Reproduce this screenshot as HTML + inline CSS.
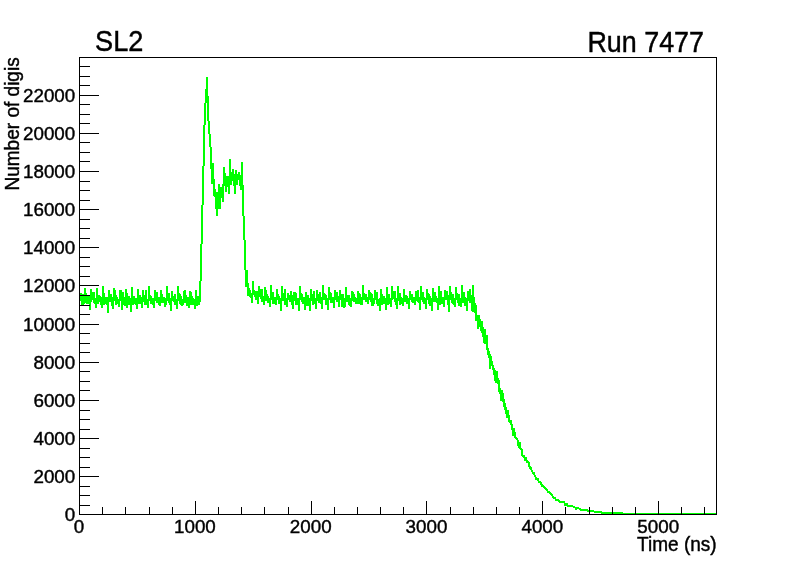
<!DOCTYPE html>
<html lang="en">
<head>
<meta charset="utf-8">
<title>SL2 - Run 7477</title>
<style>
html,body{margin:0;padding:0;background:#fff;}
body{width:796px;height:572px;overflow:hidden;}
svg{display:block;}
text{font-family:"Liberation Sans",sans-serif;fill:#000;stroke:#000;}
</style>
</head>
<body>
<svg width="796" height="572" viewBox="0 0 796 572">
<rect width="796" height="572" fill="#fff"/>
<path d="M559 501h6v2h-6zM564 503h4v3h-4zM567 505h6v2h-6zM573 506h2v2h-2zM575 507h2v3h-2zM577 507h2v2h-2zM579 508h2v2h-2zM580 509h8v2h-8zM587 510h7v2h-7zM594 511h8v2h-8zM601 512h22v2h-22zM623 513h93v2h-93zM80 293h2v8h-2zM81 294h2v11h-2zM82 294h2v11h-2zM83 294h2v10h-2zM84 288h2v14h-2zM85 293h2v10h-2zM86 295h2v9h-2zM87 296h2v8h-2zM88 296h2v8h-2zM89 296h2v14h-2zM90 289h2v13h-2zM91 292h2v8h-2zM92 292h2v8h-2zM93 292h2v11h-2zM94 298h2v6h-2zM95 299h2v9h-2zM96 288h2v13h-2zM97 295h2v9h-2zM98 295h2v6h-2zM99 296h2v6h-2zM100 297h2v8h-2zM101 298h2v10h-2zM102 286h2v15h-2zM103 293h2v12h-2zM104 298h2v6h-2zM105 297h2v7h-2zM106 297h2v8h-2zM107 298h2v15h-2zM108 290h2v11h-2zM109 297h2v5h-2zM110 294h2v8h-2zM111 297h2v9h-2zM112 299h2v10h-2zM113 288h2v13h-2zM114 290h2v11h-2zM115 295h2v10h-2zM116 297h2v7h-2zM117 299h2v5h-2zM118 299h2v8h-2zM119 290h2v11h-2zM120 290h2v9h-2zM121 294h2v16h-2zM122 292h2v13h-2zM123 297h2v8h-2zM124 299h2v7h-2zM125 289h2v12h-2zM126 293h2v15h-2zM127 296h2v7h-2zM128 296h2v9h-2zM129 298h2v7h-2zM130 299h2v13h-2zM131 287h2v15h-2zM132 296h2v9h-2zM133 296h2v8h-2zM134 298h2v6h-2zM135 298h2v7h-2zM136 299h2v10h-2zM137 289h2v12h-2zM138 295h2v9h-2zM139 295h2v9h-2zM140 297h2v7h-2zM141 298h2v10h-2zM142 290h2v11h-2zM143 295h2v7h-2zM144 295h2v10h-2zM145 290h2v14h-2zM146 300h2v5h-2zM147 299h2v9h-2zM148 286h2v15h-2zM149 295h2v6h-2zM150 296h2v8h-2zM151 298h2v6h-2zM152 298h2v7h-2zM153 299h2v9h-2zM154 290h2v11h-2zM155 293h2v8h-2zM156 292h2v11h-2zM157 297h2v6h-2zM158 297h2v8h-2zM159 298h2v8h-2zM160 290h2v11h-2zM161 294h2v9h-2zM162 297h2v6h-2zM163 297h2v5h-2zM164 298h2v9h-2zM165 299h2v6h-2zM166 286h2v15h-2zM167 294h2v7h-2zM168 293h2v10h-2zM169 298h2v7h-2zM170 299h2v12h-2zM171 291h2v10h-2zM172 296h2v5h-2zM173 296h2v6h-2zM174 294h2v11h-2zM175 300h2v5h-2zM176 299h2v10h-2zM177 286h2v15h-2zM178 293h2v6h-2zM179 294h2v10h-2zM180 296h2v9h-2zM181 301h2v5h-2zM182 299h2v6h-2zM183 291h2v10h-2zM184 290h2v13h-2zM185 295h2v8h-2zM186 299h2v7h-2zM187 297h2v9h-2zM188 298h2v10h-2zM189 291h2v10h-2zM190 292h2v13h-2zM191 296h2v7h-2zM192 298h2v7h-2zM193 299h2v6h-2zM194 299h2v10h-2zM195 290h2v12h-2zM196 296h2v10h-2zM197 296h2v5h-2zM198 296h2v9h-2zM199 281h2v21h-2zM200 244h2v37h-2zM201 205h2v39h-2zM202 166h2v39h-2zM203 125h2v41h-2zM204 103h2v22h-2zM205 89h2v14h-2zM206 77h2v26h-2zM207 96h2v25h-2zM208 121h2v13h-2zM209 134h2v13h-2zM210 147h2v22h-2zM211 169h2v15h-2zM212 163h2v21h-2zM213 179h2v17h-2zM214 189h2v8h-2zM215 196h2v13h-2zM216 192h2v24h-2zM217 196h2v13h-2zM218 184h2v25h-2zM219 187h2v22h-2zM220 187h2v11h-2zM221 187h2v8h-2zM222 184h2v18h-2zM223 167h2v19h-2zM224 173h2v13h-2zM225 176h2v16h-2zM226 178h2v9h-2zM227 176h2v11h-2zM228 176h2v18h-2zM229 159h2v26h-2zM230 172h2v13h-2zM231 172h2v9h-2zM232 169h2v12h-2zM233 174h2v12h-2zM234 174h2v20h-2zM235 170h2v15h-2zM236 174h2v11h-2zM237 174h2v6h-2zM238 172h2v8h-2zM239 175h2v11h-2zM240 175h2v15h-2zM241 162h2v24h-2zM242 185h2v31h-2zM243 216h2v24h-2zM244 240h2v30h-2zM245 270h2v17h-2zM246 270h2v17h-2zM247 283h2v13h-2zM248 288h2v7h-2zM249 290h2v7h-2zM250 293h2v5h-2zM251 293h2v10h-2zM252 281h2v14h-2zM253 290h2v5h-2zM254 291h2v6h-2zM255 292h2v8h-2zM256 291h2v9h-2zM257 293h2v11h-2zM258 286h2v11h-2zM259 289h2v6h-2zM260 291h2v8h-2zM261 289h2v13h-2zM262 297h2v5h-2zM263 296h2v9h-2zM264 287h2v11h-2zM265 290h2v11h-2zM266 294h2v7h-2zM267 296h2v7h-2zM268 298h2v5h-2zM269 298h2v9h-2zM270 285h2v15h-2zM271 295h2v5h-2zM272 292h2v12h-2zM273 298h2v6h-2zM274 297h2v6h-2zM275 298h2v7h-2zM276 289h2v11h-2zM277 294h2v6h-2zM278 296h2v8h-2zM279 299h2v5h-2zM280 298h2v13h-2zM281 286h2v14h-2zM282 295h2v6h-2zM283 293h2v8h-2zM284 289h2v16h-2zM285 298h2v7h-2zM286 298h2v9h-2zM287 293h2v7h-2zM288 295h2v5h-2zM289 296h2v6h-2zM290 291h2v11h-2zM291 295h2v10h-2zM292 297h2v12h-2zM293 292h2v8h-2zM294 292h2v9h-2zM295 293h2v12h-2zM296 298h2v7h-2zM297 298h2v6h-2zM298 298h2v13h-2zM299 286h2v14h-2zM300 293h2v6h-2zM301 294h2v8h-2zM302 297h2v7h-2zM303 297h2v7h-2zM304 298h2v12h-2zM305 292h2v10h-2zM306 295h2v11h-2zM307 295h2v8h-2zM308 298h2v8h-2zM309 298h2v13h-2zM310 289h2v12h-2zM311 295h2v6h-2zM312 294h2v11h-2zM313 291h2v13h-2zM314 299h2v5h-2zM315 298h2v11h-2zM316 290h2v10h-2zM317 294h2v7h-2zM318 294h2v9h-2zM319 292h2v11h-2zM320 297h2v7h-2zM321 298h2v11h-2zM322 285h2v15h-2zM323 293h2v6h-2zM324 294h2v6h-2zM325 295h2v10h-2zM326 300h2v5h-2zM327 298h2v12h-2zM328 287h2v13h-2zM329 292h2v6h-2zM330 293h2v10h-2zM331 297h2v6h-2zM332 297h2v6h-2zM333 298h2v10h-2zM334 290h2v10h-2zM335 293h2v6h-2zM336 292h2v10h-2zM337 296h2v6h-2zM338 298h2v9h-2zM339 290h2v10h-2zM340 294h2v6h-2zM341 295h2v12h-2zM342 294h2v12h-2zM343 301h2v7h-2zM344 298h2v9h-2zM345 287h2v13h-2zM346 295h2v7h-2zM347 297h2v5h-2zM348 295h2v10h-2zM349 300h2v6h-2zM350 298h2v9h-2zM351 291h2v9h-2zM352 292h2v9h-2zM353 294h2v8h-2zM354 297h2v5h-2zM355 298h2v6h-2zM356 298h2v6h-2zM357 291h2v9h-2zM358 293h2v11h-2zM359 294h2v10h-2zM360 297h2v8h-2zM361 298h2v7h-2zM362 285h2v15h-2zM363 293h2v7h-2zM364 294h2v6h-2zM365 294h2v8h-2zM366 297h2v5h-2zM367 298h2v6h-2zM368 290h2v10h-2zM369 292h2v6h-2zM370 293h2v9h-2zM371 294h2v12h-2zM372 301h2v5h-2zM373 298h2v6h-2zM374 290h2v10h-2zM375 294h2v6h-2zM376 292h2v12h-2zM377 299h2v7h-2zM378 301h2v5h-2zM379 298h2v13h-2zM380 289h2v11h-2zM381 294h2v11h-2zM382 296h2v5h-2zM383 296h2v8h-2zM384 298h2v6h-2zM385 298h2v12h-2zM386 287h2v14h-2zM387 294h2v11h-2zM388 294h2v9h-2zM389 298h2v6h-2zM390 298h2v9h-2zM391 286h2v14h-2zM392 291h2v7h-2zM393 293h2v6h-2zM394 291h2v11h-2zM395 298h2v7h-2zM396 298h2v11h-2zM397 286h2v14h-2zM398 293h2v8h-2zM399 293h2v12h-2zM400 297h2v6h-2zM401 299h2v5h-2zM402 298h2v8h-2zM403 289h2v12h-2zM404 295h2v7h-2zM405 295h2v6h-2zM406 296h2v8h-2zM407 298h2v6h-2zM408 298h2v11h-2zM409 291h2v9h-2zM410 294h2v6h-2zM411 294h2v8h-2zM412 297h2v6h-2zM413 297h2v6h-2zM414 298h2v7h-2zM415 291h2v9h-2zM416 292h2v9h-2zM417 290h2v12h-2zM418 297h2v6h-2zM419 298h2v12h-2zM420 286h2v14h-2zM421 292h2v5h-2zM422 292h2v10h-2zM423 297h2v7h-2zM424 299h2v5h-2zM425 298h2v11h-2zM426 289h2v11h-2zM427 293h2v6h-2zM428 294h2v10h-2zM429 296h2v10h-2zM430 299h2v7h-2zM431 298h2v13h-2zM432 288h2v12h-2zM433 295h2v7h-2zM434 292h2v10h-2zM435 296h2v6h-2zM436 298h2v5h-2zM437 298h2v12h-2zM438 286h2v14h-2zM439 294h2v11h-2zM440 291h2v11h-2zM441 297h2v7h-2zM442 297h2v7h-2zM443 298h2v9h-2zM444 290h2v10h-2zM445 293h2v6h-2zM446 291h2v9h-2zM447 295h2v10h-2zM448 296h2v16h-2zM449 286h2v14h-2zM450 292h2v6h-2zM451 294h2v9h-2zM452 294h2v10h-2zM453 299h2v6h-2zM454 298h2v9h-2zM455 287h2v13h-2zM456 293h2v6h-2zM457 294h2v9h-2zM458 294h2v12h-2zM459 300h2v6h-2zM460 298h2v9h-2zM461 285h2v15h-2zM462 295h2v8h-2zM463 292h2v11h-2zM464 297h2v9h-2zM465 299h2v7h-2zM466 298h2v13h-2zM467 291h2v9h-2zM468 294h2v7h-2zM469 289h2v14h-2zM470 298h2v5h-2zM471 295h2v16h-2zM472 285h2v27h-2zM473 297h2v15h-2zM474 303h2v10h-2zM475 305h2v16h-2zM476 315h2v6h-2zM477 316h2v13h-2zM478 315h2v10h-2zM479 319h2v8h-2zM480 322h2v9h-2zM481 321h2v12h-2zM482 327h2v10h-2zM483 332h2v11h-2zM484 329h2v15h-2zM485 337h2v7h-2zM486 335h2v15h-2zM487 348h2v7h-2zM488 351h2v7h-2zM489 354h2v15h-2zM490 356h2v7h-2zM491 361h2v5h-2zM492 365h2v5h-2zM493 368h2v7h-2zM494 370h2v11h-2zM495 376h2v7h-2zM496 371h2v10h-2zM497 378h2v6h-2zM498 380h2v12h-2zM499 388h2v6h-2zM500 391h2v10h-2zM501 390h2v6h-2zM502 393h2v9h-2zM503 399h2v8h-2zM504 403h2v7h-2zM505 407h2v7h-2zM506 412h2v6h-2zM507 410h2v8h-2zM508 415h2v7h-2zM509 420h2v3h-2zM510 420h2v5h-2zM511 424h2v6h-2zM512 429h2v7h-2zM513 428h2v6h-2zM514 432h2v6h-2zM515 437h2v2h-2zM516 438h2v2h-2zM517 440h2v6h-2zM518 444h2v4h-2zM519 442h2v7h-2zM520 448h2v2h-2zM521 449h2v7h-2zM522 455h2v2h-2zM523 455h2v3h-2zM524 457h2v4h-2zM525 457h2v3h-2zM526 460h2v3h-2zM527 461h2v2h-2zM528 462h2v5h-2zM529 466h2v3h-2zM530 467h2v3h-2zM531 470h2v2h-2zM532 472h2v2h-2zM533 472h2v3h-2zM534 475h2v2h-2zM535 477h2v3h-2zM536 478h2v2h-2zM537 478h2v3h-2zM538 481h2v2h-2zM539 481h2v2h-2zM540 482h2v3h-2zM541 484h2v3h-2zM542 485h2v2h-2zM543 486h2v2h-2zM544 487h2v2h-2zM545 488h2v2h-2zM546 489h2v2h-2zM547 491h2v2h-2zM548 491h2v2h-2zM549 492h2v2h-2zM550 493h2v2h-2zM551 494h2v2h-2zM552 496h2v2h-2zM553 497h2v2h-2zM554 497h2v2h-2zM555 499h2v2h-2zM556 499h2v2h-2zM557 499h2v2h-2zM558 500h2v2h-2z" fill="#00ff00" shape-rendering="crispEdges"/>
<path d="M79 57h638v1h-638zM79 514h638v1h-638zM79 57h1v458h-1zM716 57h1v458h-1zM79 501h1v13h-1zM102 507h1v7h-1zM125 507h1v7h-1zM149 507h1v7h-1zM172 507h1v7h-1zM195 501h1v13h-1zM218 507h1v7h-1zM241 507h1v7h-1zM264 507h1v7h-1zM288 507h1v7h-1zM311 501h1v13h-1zM334 507h1v7h-1zM357 507h1v7h-1zM380 507h1v7h-1zM403 507h1v7h-1zM426 501h1v13h-1zM450 507h1v7h-1zM473 507h1v7h-1zM496 507h1v7h-1zM519 507h1v7h-1zM542 501h1v13h-1zM565 507h1v7h-1zM589 507h1v7h-1zM612 507h1v7h-1zM635 507h1v7h-1zM658 501h1v13h-1zM681 507h1v7h-1zM704 507h1v7h-1zM79 514h20v1h-20zM79 505h11v1h-11zM79 495h11v1h-11zM79 486h11v1h-11zM79 476h20v1h-20zM79 467h11v1h-11zM79 457h11v1h-11zM79 448h11v1h-11zM79 438h20v1h-20zM79 429h11v1h-11zM79 419h11v1h-11zM79 410h11v1h-11zM79 400h20v1h-20zM79 390h11v1h-11zM79 381h11v1h-11zM79 371h11v1h-11zM79 362h20v1h-20zM79 352h11v1h-11zM79 343h11v1h-11zM79 333h11v1h-11zM79 324h20v1h-20zM79 314h11v1h-11zM79 305h11v1h-11zM79 295h11v1h-11zM79 285h20v1h-20zM79 276h11v1h-11zM79 266h11v1h-11zM79 257h11v1h-11zM79 247h20v1h-20zM79 238h11v1h-11zM79 228h11v1h-11zM79 219h11v1h-11zM79 209h20v1h-20zM79 200h11v1h-11zM79 190h11v1h-11zM79 181h11v1h-11zM79 171h20v1h-20zM79 161h11v1h-11zM79 152h11v1h-11zM79 142h11v1h-11zM79 133h20v1h-20zM79 123h11v1h-11zM79 114h11v1h-11zM79 104h11v1h-11zM79 95h20v1h-20zM79 85h11v1h-11zM79 76h11v1h-11zM79 66h11v1h-11z" fill="#000" shape-rendering="crispEdges"/>
<text transform="translate(75.30 521.10) scale(0.39200 0.40000)" text-anchor="end" font-size="48" stroke-width="1.05">0</text>
<text transform="translate(75.30 483.10) scale(0.39200 0.40000)" text-anchor="end" font-size="48" stroke-width="1.05">2000</text>
<text transform="translate(75.30 445.10) scale(0.39200 0.40000)" text-anchor="end" font-size="48" stroke-width="1.05">4000</text>
<text transform="translate(75.30 407.10) scale(0.39200 0.40000)" text-anchor="end" font-size="48" stroke-width="1.05">6000</text>
<text transform="translate(75.30 369.10) scale(0.39200 0.40000)" text-anchor="end" font-size="48" stroke-width="1.05">8000</text>
<text transform="translate(75.30 331.10) scale(0.39200 0.40000)" text-anchor="end" font-size="48" stroke-width="1.05">10000</text>
<text transform="translate(75.30 292.10) scale(0.39200 0.40000)" text-anchor="end" font-size="48" stroke-width="1.05">12000</text>
<text transform="translate(75.30 254.10) scale(0.39200 0.40000)" text-anchor="end" font-size="48" stroke-width="1.05">14000</text>
<text transform="translate(75.30 216.10) scale(0.39200 0.40000)" text-anchor="end" font-size="48" stroke-width="1.05">16000</text>
<text transform="translate(75.30 178.10) scale(0.39200 0.40000)" text-anchor="end" font-size="48" stroke-width="1.05">18000</text>
<text transform="translate(75.30 140.10) scale(0.39200 0.40000)" text-anchor="end" font-size="48" stroke-width="1.05">20000</text>
<text transform="translate(75.30 102.10) scale(0.39200 0.40000)" text-anchor="end" font-size="48" stroke-width="1.05">22000</text>
<text transform="translate(79.10 533.30) scale(0.39200 0.40000)" text-anchor="middle" font-size="48" stroke-width="1.05">0</text>
<text transform="translate(194.92 533.30) scale(0.39200 0.40000)" text-anchor="middle" font-size="48" stroke-width="1.05">1000</text>
<text transform="translate(310.74 533.30) scale(0.39200 0.40000)" text-anchor="middle" font-size="48" stroke-width="1.05">2000</text>
<text transform="translate(426.55 533.30) scale(0.39200 0.40000)" text-anchor="middle" font-size="48" stroke-width="1.05">3000</text>
<text transform="translate(542.37 533.30) scale(0.39200 0.40000)" text-anchor="middle" font-size="48" stroke-width="1.05">4000</text>
<text transform="translate(658.19 533.30) scale(0.39200 0.40000)" text-anchor="middle" font-size="48" stroke-width="1.05">5000</text>
<text transform="translate(716.70 551.20) scale(0.38480 0.40000)" text-anchor="end" font-size="49.5" stroke-width="1.05">Time (ns)</text>
<text transform="translate(18.60 57.30) rotate(-90) scale(0.38480 0.40000)" text-anchor="end" font-size="49.5" stroke-width="1.05">Number of digis</text>
<text transform="translate(95.10 51.40) scale(0.37800 0.40000)" text-anchor="start" font-size="71.75" stroke-width="1.125">SL2</text>
<text transform="translate(704.00 51.70) scale(0.37480 0.40000)" text-anchor="end" font-size="71.75" stroke-width="1.125">Run 7477</text>
</svg>
</body>
</html>
